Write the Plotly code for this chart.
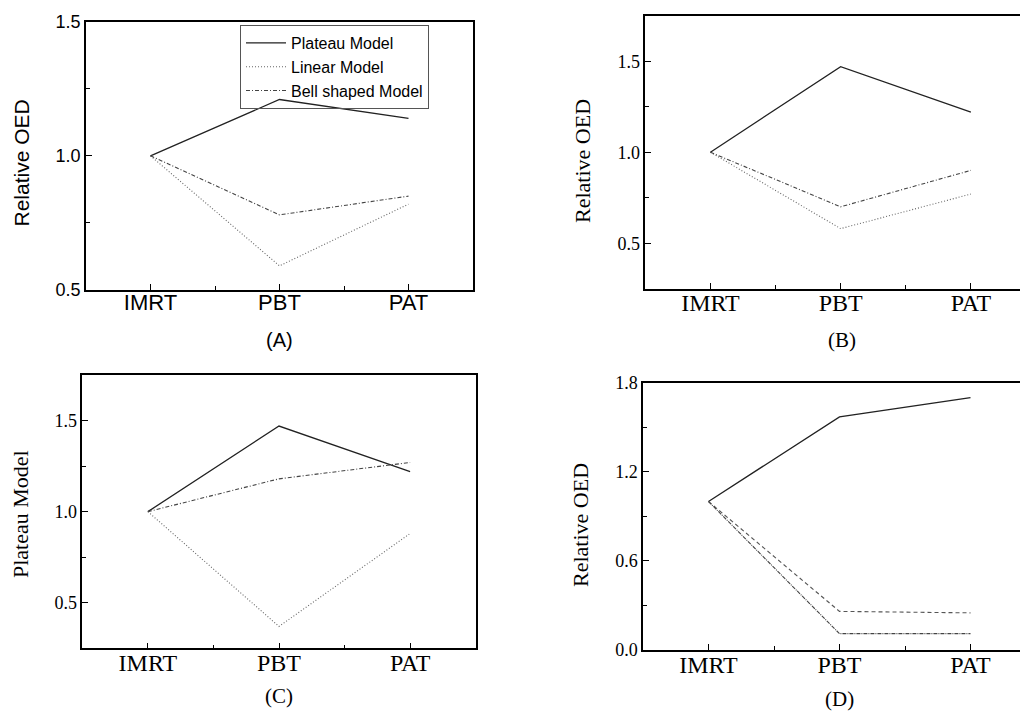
import plotly.graph_objects as go

categories = ["IMRT", "PBT", "PAT"]
series_names = ["Plateau Model", "Linear Model", "Bell shaped Model"]

panel_a = {"Plateau Model": [1.0, 1.21, 1.14],
           "Linear Model": [1.0, 0.59, 0.82],
           "Bell shaped Model": [1.0, 0.78, 0.85]}
panel_b = {"Plateau Model": [1.0, 1.47, 1.22],
           "Linear Model": [1.0, 0.58, 0.77],
           "Bell shaped Model": [1.0, 0.70, 0.90]}
panel_c = {"Plateau Model": [1.0, 1.47, 1.22],
           "Linear Model": [1.0, 0.37, 0.88],
           "Bell shaped Model": [1.0, 1.18, 1.27]}
panel_d = {"Plateau Model": [1.0, 1.57, 1.70],
           "Linear Model": [1.0, 0.26, 0.25],
           "Bell shaped Model": [1.0, 0.11, 0.11]}

panel_labels = ["(A)", "(B)", "(C)", "(D)"]
y_titles = ["Relative OED", "Relative OED", "Plateau Model", "Relative OED"]

W, H = 1028, 712
OFF = 8  # page body margin offset
SANS = "Liberation Sans, Arial, sans-serif"
SERIF = "Liberation Serif, Times New Roman, serif"

def px(x):
    return (x - OFF) / W

def py(y):
    return (H - (y - OFF)) / H

panels = [
    dict(data=panel_a, font=SANS, xdom=[px(86), px(473)], ydom=[py(290), py(21.7)],
         xr=[-0.5, 2.5], yr=[0.5, 1.5], dt=0.5, mdt=0.25, ymirror=True,
         styles={"Plateau Model": ("solid", "#222222", 1.3),
                 "Linear Model": ("1px,2px", "#666666", 1.1),
                 "Bell shaped Model": ("4px,2px,1px,2px", "#444444", 1.1)},
         xfs=22, yfs=18, tfs=21, lab=(279, 340), lfs=20, title=(21, 163.5)),
    dict(data=panel_b, font=SERIF, xdom=[px(645.3), 1.0], ydom=[py(288.7), py(15.7)],
         xr=[-0.5, 2.5], yr=[0.25, 1.75], dt=0.5, mdt=0.25, ymirror=False,
         styles={"Plateau Model": ("solid", "#222222", 1.3),
                 "Linear Model": ("1px,2px", "#666666", 1.1),
                 "Bell shaped Model": ("4px,2px,1px,2px", "#444444", 1.1)},
         xfs=24, yfs=18, tfs=22, lab=(841.7, 340), lfs=21, title=(582, 161)),
    dict(data=panel_c, font=SERIF, xdom=[px(82.3), px(475.7)], ydom=[py(648.3), py(375)],
         xr=[-0.5, 2.5], yr=[0.25, 1.75], dt=0.5, mdt=0.25, ymirror=True,
         styles={"Plateau Model": ("solid", "#222222", 1.3),
                 "Linear Model": ("1px,2px", "#666666", 1.1),
                 "Bell shaped Model": ("4px,2px,1px,2px", "#444444", 1.1)},
         xfs=24, yfs=18, tfs=22, lab=(279, 696), lfs=21, title=(20, 514)),
    dict(data=panel_d, font=SERIF, xdom=[px(643), 1.0], ydom=[py(650), py(382.7)],
         xr=[-0.5, 2.5], yr=[0.0, 1.8], dt=0.6, mdt=0.3, ymirror=False,
         styles={"Plateau Model": ("solid", "#222222", 1.3),
                 "Linear Model": ("4px,3px", "#555555", 1.1),
                 "Bell shaped Model": ("4px,1px,1px,1px", "#444444", 1.1)},
         xfs=24, yfs=18, tfs=22, lab=(839, 699), lfs=21, title=(580, 525)),
]

fig = go.Figure()
layout = dict(width=W, height=H,
              margin=dict(l=0, r=0, t=0, b=0, pad=0, autoexpand=False),
              paper_bgcolor="white", plot_bgcolor="white", showlegend=True)
annotations = []
x_idx = list(range(len(categories)))

for i, p in enumerate(panels):
    n = "" if i == 0 else str(i + 1)
    xa, ya = "x" + n, "y" + n
    for name in series_names:
        dash, color, width = p["styles"][name]
        fig.add_trace(go.Scatter(
            x=x_idx, y=p["data"][name], mode="lines", name=name,
            line=dict(color=color, width=width, dash=dash),
            xaxis=xa, yaxis=ya, showlegend=(i == 0)))
    layout["xaxis" + n] = dict(
        domain=p["xdom"], range=p["xr"], anchor=ya, automargin=False,
        tickmode="array", tickvals=x_idx, ticktext=categories,
        ticks="inside", ticklen=6, tickwidth=1.2, tickcolor="black",
        showline=True, linecolor="black", linewidth=1.5, mirror=True,
        showgrid=False, zeroline=False, ticklabelstandoff=-8,
        tickfont=dict(family=p["font"], size=p["xfs"], color="black"),
        minor=dict(ticks="inside", ticklen=4, tickwidth=1.2, tickcolor="black",
                   dtick=0.5, tick0=-0.5, showgrid=False))
    layout["yaxis" + n] = dict(
        domain=p["ydom"], range=p["yr"], anchor=xa, automargin=False,
        tick0=0, dtick=p["dt"], ticks="inside", ticklen=6, tickwidth=1.2,
        tickcolor="black", showline=True, linecolor="black", linewidth=1.5,
        mirror=p["ymirror"], showgrid=False, zeroline=False,
        tickformat=".1f", ticklabelstandoff=0,
        tickfont=dict(family=p["font"], size=p["yfs"], color="black"),
        minor=dict(ticks="inside", ticklen=4, tickwidth=1.2, tickcolor="black",
                   dtick=p["mdt"], tick0=0, showgrid=False))
    annotations.append(dict(text=panel_labels[i], x=px(p["lab"][0]), y=py(p["lab"][1]),
                            xref="paper", yref="paper", showarrow=False,
                            xanchor="center", yanchor="middle",
                            font=dict(family=p["font"], size=p["lfs"], color="black")))
    annotations.append(dict(text=y_titles[i], x=px(p["title"][0]), y=py(p["title"][1]),
                            xref="paper", yref="paper", showarrow=False, textangle=-90,
                            xanchor="center", yanchor="middle",
                            font=dict(family=p["font"], size=p["tfs"], color="black")))

layout["annotations"] = annotations
layout["legend"] = dict(x=px(240), y=py(25), xanchor="left", yanchor="top",
                        bgcolor="rgba(255,255,255,0)", bordercolor="#555555", borderwidth=1,
                        font=dict(family=SANS, size=16, color="black"),
                        tracegroupgap=0, itemwidth=40)
fig.update_layout(**layout)
fig.write_html("out.html")
